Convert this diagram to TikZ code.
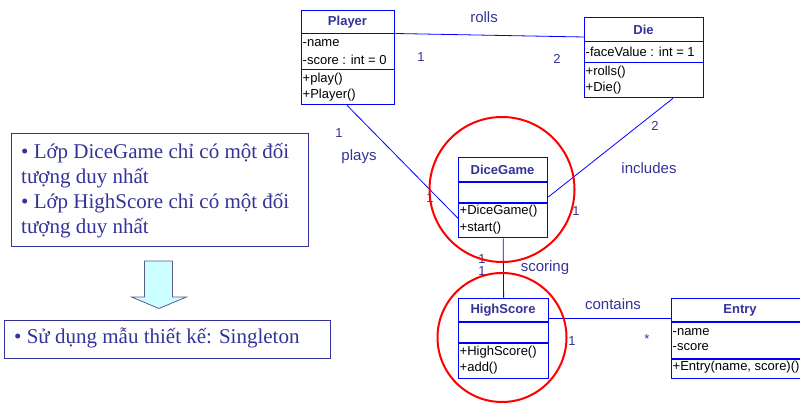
\documentclass[tikz,border=0pt]{standalone}
\usepackage{fontspec}
\setmainfont{Liberation Sans}
\newfontfamily\serifvn{Liberation Serif}
\usetikzlibrary{calc}
\definecolor{umlblue}{RGB}{0,0,255}
\definecolor{labblue}{RGB}{51,51,153}
\definecolor{arrfill}{RGB}{204,255,255}
\definecolor{arrdraw}{RGB}{90,90,140}
\tikzset{
  umlbox/.style={draw=umlblue, line width=1.3pt, fill=white, rectangle, inner sep=0pt, anchor=north west},
  sepline/.style={draw=umlblue, line width=1.3pt},
  conn/.style={draw=umlblue, line width=0.8pt},
  ttl/.style={font=\fontsize{13}{15}\selectfont\bfseries, text=labblue, inner sep=0pt},
  mem/.style={font=\fontsize{13}{15}\selectfont, text=black, inner sep=0pt, anchor=west},
  assoc/.style={font=\fontsize{15}{17}\selectfont, text=labblue, inner sep=0pt},
  mult/.style={font=\fontsize{13}{15}\selectfont, text=labblue, inner sep=0pt},
  ring/.style={circle, draw=red, line width=2pt, inner sep=0pt},
  notebox/.style={draw=labblue, line width=1.2pt, fill=white, rectangle, inner sep=0pt, anchor=north west},
  notetxt/.style={font=\serifvn\fontsize{21}{25}\selectfont, text=labblue, inner sep=0pt, anchor=west},
}
\begin{document}
\begin{tikzpicture}[x=1pt,y=-1pt]
\useasboundingbox (0,0) rectangle (800,403);
\clip (0,0) rectangle (800,403);
% class boxes (drawn first as named nodes)
\node[umlbox, minimum width=93pt, minimum height=94pt] (player) at (301,10) {};
\node[umlbox, minimum width=119pt, minimum height=80pt] (die) at (584,17) {};
\node[umlbox, minimum width=89pt, minimum height=80pt] (dicegame) at (458,157) {};
\node[umlbox, minimum width=90pt, minimum height=80pt] (highscore) at (458,298) {};
\node[umlbox, minimum width=140pt, minimum height=80pt] (entry) at (671,298) {};
% connectors
\draw[conn] ($(player.north east)+(0,23.5)$) -- ($(die.north west)+(0,20)$);
\draw[conn] ($(player.south west)+(46,0)$) -- ($(dicegame.south west)+(0,-20)$);
\draw[conn] ($(die.south west)+(89,0)$) -- ($(dicegame.north east)+(0,40)$);
\draw[conn] (dicegame.south) -- (highscore.north);
\draw[conn] ($(highscore.north east)+(0,20)$) -- ($(entry.north west)+(0,20)$);
% redraw boxes on top
\node[umlbox, minimum width=93pt, minimum height=94pt] at (301,10) {};
\node[umlbox, minimum width=119pt, minimum height=80pt] at (584,17) {};
\node[umlbox, minimum width=89pt, minimum height=80pt] at (458,157) {};
\node[umlbox, minimum width=90pt, minimum height=80pt] at (458,298) {};
\node[umlbox, minimum width=140pt, minimum height=80pt] at (671,298) {};
% separators
\draw[sepline] ($(player.north west)+(0,23.5)$) -- ($(player.north east)+(0,23.5)$);
\draw[sepline] ($(player.north west)+(0,59.5)$) -- ($(player.north east)+(0,59.5)$);
\draw[sepline] ($(die.north west)+(0,24.5)$) -- ($(die.north east)+(0,24.5)$);
\draw[sepline] ($(die.north west)+(0,45.5)$) -- ($(die.north east)+(0,45.5)$);
\draw[sepline] ($(dicegame.north west)+(0,25)$) -- ($(dicegame.north east)+(0,25)$);
\draw[sepline] ($(dicegame.north west)+(0,46)$) -- ($(dicegame.north east)+(0,46)$);
\draw[sepline] ($(highscore.north west)+(0,24)$) -- ($(highscore.north east)+(0,24)$);
\draw[sepline] ($(highscore.north west)+(0,45)$) -- ($(highscore.north east)+(0,45)$);
\draw[sepline] ($(entry.north west)+(0,24)$) -- ($(entry.north east)+(0,24)$);
\draw[sepline] ($(entry.north west)+(0,61)$) -- ($(entry.north east)+(0,61)$);
% class texts
\node[ttl] (tplayer) at (347.5,22) {Player};
\node[mem] (p1) at (302.5,43.5) {-name};
\node[mem] (p2) at (302.5,60) {-score : int = 0};
\node[mem] (p3) at (302.5,79) {+play()};
\node[mem] (p4) at (302.5,95.5) {+Player()};
\node[ttl] (tdie) at (643.5,29.5) {Die};
\node[mem] (d1) at (585.5,51.5) {-faceValue : int = 1};
\node[mem] (d2) at (585.5,72) {+rolls()};
\node[mem] (d3) at (585.5,88.5) {+Die()};
\node[ttl] (tdg) at (502.5,170) {DiceGame};
\node[mem] (g1) at (459.5,211.5) {+DiceGame()};
\node[mem] (g2) at (459.5,228) {+start()};
\node[ttl] (ths) at (503,310.5) {HighScore};
\node[mem] (h1) at (459.5,352) {+HighScore()};
\node[mem] (h2) at (459.5,368) {+add()};
\node[ttl] (tentry) at (740,310.5) {Entry};
\node[mem] (e1) at (672.5,332) {-name};
\node[mem] (e2) at (672.5,347) {-score};
\node[mem] (e3) at (672.5,367) {+Entry(name, score)()};
% association labels
\node[assoc] (lrolls) at (484,17) {rolls};
\node[assoc] (lplays) at (359,157) {plays};
\node[assoc] (lincl) at (649,168) {includes};
\node[assoc] (lscor) at (545,268) {scoring};
\node[assoc] (lcont) at (613,304) {contains};
% multiplicities
\node[mult] (m1) at (421,57) {1};
\node[mult] (m2) at (557,59) {2};
\node[mult] (m3) at (339,133) {1};
\node[mult] (m4) at (430,198) {1};
\node[mult] (m5) at (655,126) {2};
\node[mult] (m6) at (576,211) {1};
\node[mult] (m7) at (482,259) {1};
\node[mult] (m8) at (482,271) {1};
\node[mult] (m9) at (572,341) {1};
\node[mult] (m10) at (647,339) {*};
% red circles
\node[ring, minimum size=145pt] (ring1) at (502,189.5) {};
\node[ring, minimum size=129pt] (ring2) at (502,337.5) {};
% left note
\node[notebox, minimum width=297pt, minimum height=113pt] (note1) at (11,133) {};
\node[notetxt] (n1) at (21,153) {\textbullet\ Lớp DiceGame chỉ có một đối};
\node[notetxt] (n2) at (21,178) {tượng duy nhất};
\node[notetxt] (n3) at (21,203) {\textbullet\ Lớp HighScore chỉ có một đối};
\node[notetxt] (n4) at (21,228) {tượng duy nhất};
% block arrow
\draw[draw=arrdraw, fill=arrfill, line width=0.8pt] (144.5,261) -- (172.5,261) -- (172.5,297) -- (186.5,297) -- (159,308.5) -- (131.5,297) -- (144.5,297) -- cycle;
% bottom note
\node[notebox, minimum width=326pt, minimum height=38pt] (note2) at (3.5,319.5) {};
\node[notetxt] (n5) at (14,338) {\textbullet\ Sử dụng mẫu thiết kế: Singleton};
\end{tikzpicture}
\end{document}
